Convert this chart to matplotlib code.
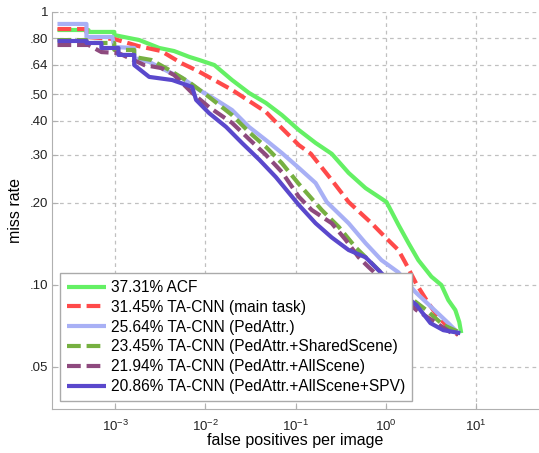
import numpy as np
import matplotlib
matplotlib.use('Agg')
import matplotlib.pyplot as plt
from matplotlib.ticker import FixedLocator, NullLocator

plt.rcParams['font.family'] = ['Liberation Sans', 'DejaVu Sans']
plt.rcParams['mathtext.fontset'] = 'custom'
plt.rcParams['mathtext.rm'] = 'Liberation Sans'
plt.rcParams['mathtext.it'] = 'Liberation Sans'
plt.rcParams['mathtext.default'] = 'regular'

# --- curves (fppi, miss rate) ---
acf_fppi = [2.30e-4, 5.07e-4, 5.07e-4, 9.8e-4, 9.8e-4, 1.86e-3, 3.09e-3, 4.52e-3, 6.69e-3, 8.54e-3,
            0.0126, 0.0198, 0.0305, 0.0470, 0.0706, 0.109, 0.167, 0.252, 0.388, 0.598,
            1.02, 1.38, 1.79, 2.30, 3.21, 4.14, 4.94, 5.91, 6.54, 6.87]
acf_mr = [0.859, 0.859, 0.845, 0.845, 0.823, 0.789, 0.738, 0.719, 0.684, 0.667,
          0.639, 0.563, 0.505, 0.464, 0.419, 0.369, 0.331, 0.302, 0.257, 0.226,
          0.201, 0.166, 0.142, 0.123, 0.107, 0.0997, 0.0878, 0.0807, 0.0729, 0.0664]

main_fppi = [2.30e-4, 4.82e-4, 4.82e-4, 9.8e-4, 1.81e-3, 3.25e-3, 5.40e-3, 8.32e-3, 0.0132, 0.0198,
             0.0305, 0.0470, 0.0706, 0.109, 0.148, 0.252, 0.388, 0.697, 0.995, 1.38,
             1.66, 2.19, 2.97, 3.83, 4.94, 6.37]
main_mr = [0.866, 0.866, 0.810, 0.796, 0.750, 0.719, 0.650, 0.607, 0.558, 0.518,
           0.472, 0.430, 0.375, 0.325, 0.302, 0.242, 0.201, 0.168, 0.149, 0.134,
           0.120, 0.1005, 0.0856, 0.0760, 0.0699, 0.0653]

ped_fppi = [2.30e-4, 4.82e-4, 4.82e-4, 9.34e-4, 9.8e-4, 1.63e-3, 1.63e-3, 2.39e-3, 3.98e-3, 5.54e-3,
            8.54e-3, 0.0132, 0.0198, 0.0305, 0.0470, 0.0706, 0.109, 0.167, 0.222, 0.388,
            0.598, 0.898, 1.38, 2.13, 3.21, 4.94, 6.37]
ped_mr = [0.904, 0.904, 0.810, 0.810, 0.744, 0.738, 0.678, 0.656, 0.602, 0.573,
          0.518, 0.476, 0.437, 0.379, 0.339, 0.304, 0.268, 0.236, 0.201, 0.168,
          0.142, 0.123, 0.111, 0.094, 0.0827, 0.0723, 0.0664]

shared_fppi = [2.30e-4, 4.82e-4, 4.82e-4, 9.8e-4, 9.8e-4, 1.63e-3, 1.63e-3, 2.52e-3, 3.98e-3, 6.62e-3,
               0.0110, 0.0198, 0.0305, 0.0470, 0.0706, 0.109, 0.195, 0.301, 0.464, 0.697,
               1.22, 2.82, 4.35, 6.87]
shared_mr = [0.789, 0.789, 0.770, 0.770, 0.726, 0.726, 0.684, 0.667, 0.613, 0.553,
             0.488, 0.419, 0.363, 0.320, 0.279, 0.234, 0.188, 0.163, 0.137, 0.120,
             0.0997, 0.0807, 0.0711, 0.0664]

all_fppi = [2.30e-4, 5.07e-4, 7.06e-4, 1.09e-3, 2.11e-3, 3.25e-3, 4.52e-3, 7.15e-3, 0.0110, 0.0198,
            0.0305, 0.0470, 0.0706, 0.109, 0.151, 0.252, 0.360, 0.501, 0.646, 1.22,
            2.19, 3.64, 5.20, 6.37]
all_mr = [0.757, 0.757, 0.713, 0.707, 0.639, 0.623, 0.587, 0.505, 0.448, 0.392,
          0.342, 0.299, 0.259, 0.210, 0.188, 0.168, 0.146, 0.126, 0.116, 0.0955,
          0.0807, 0.0723, 0.067, 0.0659]

spv_fppi = [2.30e-4, 4.82e-4, 4.82e-4, 7.06e-4, 7.06e-4, 1.09e-3, 1.09e-3, 1.63e-3, 1.63e-3, 2.39e-3,
            4.30e-3, 7.15e-3, 7.91e-3, 0.0110, 0.0170, 0.0255, 0.0398, 0.0606, 0.109, 0.167,
            0.252, 0.388, 0.598, 0.832, 1.38, 2.19, 3.13, 4.35, 6.71]
spv_mr = [0.783, 0.783, 0.770, 0.770, 0.738, 0.738, 0.696, 0.696, 0.639, 0.578,
          0.563, 0.531, 0.476, 0.426, 0.379, 0.331, 0.287, 0.248, 0.196, 0.168,
          0.149, 0.134, 0.126, 0.113, 0.0955, 0.0842, 0.0723, 0.0681, 0.0664]

labels = ['37.31% ACF', '31.45% TA-CNN (main task)', '25.64% TA-CNN (PedAttr.)',
          '23.45% TA-CNN (PedAttr.+SharedScene)', '21.94% TA-CNN (PedAttr.+AllScene)',
          '20.86% TA-CNN (PedAttr.+AllScene+SPV)']
colors = ['#64f064', '#ff4a4a', '#a8b0f5', '#76b041', '#8e4a7e', '#5a48cc']
styles = ['-', '--', '-', '--', '--', '-']

ytick_vals = [0.05, 0.10, 0.20, 0.30, 0.40, 0.50, 0.64, 0.80, 1.0]
ytick_lbls = ['.05', '.10', '.20', '.30', '.40', '.50', '.64', '.80', '1']
xtick_vals = [1e-3, 1e-2, 1e-1, 1e0, 1e1]
xtick_lbls = ['$10^{-3}$', '$10^{-2}$', '$10^{-1}$', '$10^{0}$', '$10^{1}$']

fig = plt.figure(figsize=(5.39, 4.53), dpi=100)
ax = fig.add_axes([52 / 539, 44 / 453, 487 / 539, 397 / 453])

curves = [(acf_fppi, acf_mr), (main_fppi, main_mr), (ped_fppi, ped_mr),
          (shared_fppi, shared_mr), (all_fppi, all_mr), (spv_fppi, spv_mr)]
for (xs, ys), lab, c, ls in zip(curves, labels, colors, styles):
    line, = ax.plot(xs, ys, color=c, ls=ls, lw=3, label=lab, solid_capstyle='butt')
    if ls == '--':
        line.set_dashes((3.3, 1.4))

ax.set_xscale('log')
ax.set_yscale('log')
ax.set_xlim(2e-4, 50)
ax.set_ylim(0.035, 1.0)

ax.yaxis.set_major_locator(FixedLocator(ytick_vals))
ax.set_yticklabels(ytick_lbls)
ax.yaxis.set_minor_locator(NullLocator())
ax.xaxis.set_major_locator(FixedLocator(xtick_vals))
ax.set_xticklabels(xtick_lbls)
ax.xaxis.set_minor_locator(NullLocator())
ax.tick_params(direction='in', length=4, color='#b0b0b0', labelcolor='#222222')
ax.tick_params(axis='y', labelsize=9.5, pad=2.5)
ax.tick_params(axis='x', labelsize=9.5, pad=7)

ax.grid(True, ls=(0, (3, 3)), color='#c0c0c0', lw=0.9)
for s in ['top', 'right']:
    ax.spines[s].set_visible(False)
for s in ['left', 'bottom']:
    ax.spines[s].set_color('#b0b0b0')

ax.set_xlabel('false positives per image', fontsize=11.5, labelpad=-1)
ax.set_ylabel('miss rate', fontsize=11.5, labelpad=5)

leg = ax.legend(loc='lower left', bbox_to_anchor=(0.0164, 0.02), fontsize=11.2,
                handlelength=2.5, handletextpad=0.3, labelspacing=0.31,
                borderpad=0.45, fancybox=False, framealpha=1, edgecolor='#aaaaaa',
                borderaxespad=0)
leg.get_frame().set_linewidth(1.0)

fig.savefig('out.png', dpi=100)
